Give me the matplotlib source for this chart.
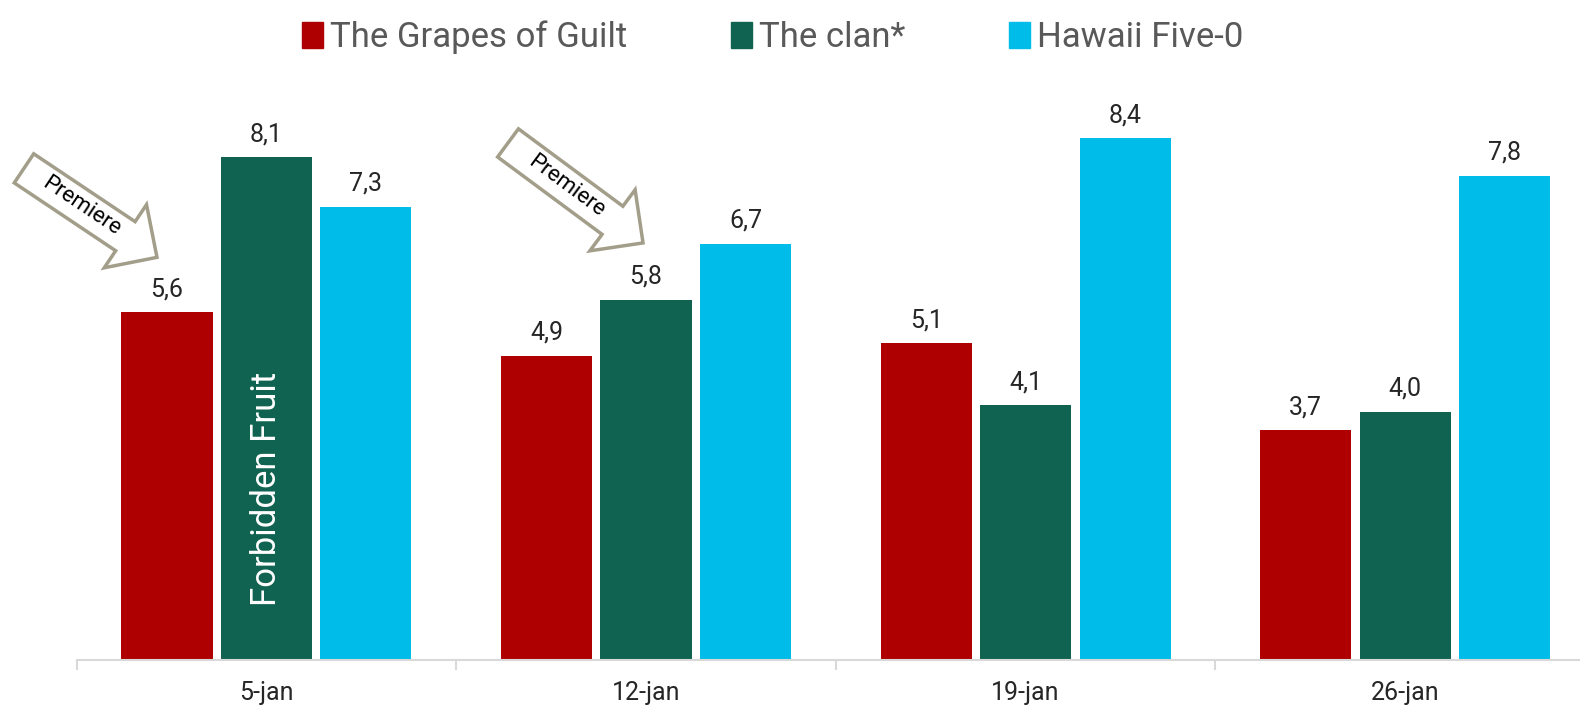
import numpy as np
import matplotlib
matplotlib.use("Agg")
import matplotlib.pyplot as plt
import matplotlib.patches as mpatches
from matplotlib.transforms import IdentityTransform

weeks = ["5-jan", "12-jan", "19-jan", "26-jan"]
grapes = [5.6, 4.9, 5.1, 3.7]
clan = [8.1, 5.8, 4.1, 4.0]
hawaii = [7.3, 6.7, 8.4, 7.8]
series_names = ["The Grapes of Guilt", "The clan*", "Hawaii Five-0"]
colors = ["#AE0000", "#0F6350", "#00BCE8"]

plt.rcParams['font.family'] = ['Roboto', 'DejaVu Sans']

fig = plt.figure(figsize=(15.8, 7.1), dpi=100)
ax = fig.add_axes([0.0485, 0.0704, 0.961, 0.787])

x = np.arange(len(weeks))
w = 0.24
off = 0.262
for i, (vals, name, c) in enumerate(zip([grapes, clan, hawaii], series_names, colors)):
    bars = ax.bar(x + (i - 1) * off, vals, w, color=c, label=name)
    ax.bar_label(bars, labels=[f"{v:.1f}".replace(".", ",") for v in vals],
                 padding=8, fontsize=18, color="#262626")

ax.set_xlim(-0.5, 3.5)
ax.set_ylim(0, 9)
ax.set_yticks([])
for s in ["top", "right", "left"]:
    ax.spines[s].set_visible(False)
ax.spines["bottom"].set_color("#d9d9d9")
ax.spines["bottom"].set_linewidth(1.5)
ax.set_xticks(x)
ax.set_xticklabels(weeks, fontsize=18, color="#262626")
ax.tick_params(axis="x", which="major", length=0, pad=15)
ax.set_xticks(np.arange(-0.5, 4.0, 1.0), minor=True)
ax.tick_params(axis="x", which="minor", length=7, color="#d9d9d9", width=1.5)

# text inside the 5-jan clan bar
ax.text(x[0], 2.76, "Forbidden Fruit", rotation=90, ha="center", va="center",
        color="white", fontsize=25)

# "Premiere" arrows, tip placed relative to the bar they point at
def premiere_arrow(xb, yb, dx_tip, dy_tip, vx, vy):
    tx, ty = ax.transData.transform((xb, yb))
    tx += dx_tip
    ty += dy_tip
    sx, sy = tx - vx, ty - vy
    arr = mpatches.FancyArrow(sx, sy, vx, vy, width=35, head_width=76, head_length=38,
                              length_includes_head=True, transform=IdentityTransform(),
                              facecolor="white", edgecolor="#a39e8a", linewidth=2.5)
    fig.add_artist(arr)
    ang = np.degrees(np.arctan2(vy, vx))
    fig.text((sx + 0.43 * vx) / fig.bbox.width, (sy + 0.43 * vy) / fig.bbox.height,
             "Premiere", rotation=ang, rotation_mode="anchor", ha="center", va="center",
             fontsize=16, color="black")

premiere_arrow(x[0] - off, grapes[0], -10, 55, 133, -89)
premiere_arrow(x[1], clan[1], -3, 57, 135, -100)

handles = [mpatches.Patch(color=c) for c in colors]
fig.legend(handles, series_names, loc="upper center", bbox_to_anchor=(0.489, 1.015), ncol=3,
           frameon=False, labelcolor="#595959", handlelength=0.6,
           handleheight=0.75, handletextpad=0.2, columnspacing=3.0,
           prop={'family': ['Roboto', 'DejaVu Sans'], 'size': 25})

fig.savefig("out.png", dpi=100)
